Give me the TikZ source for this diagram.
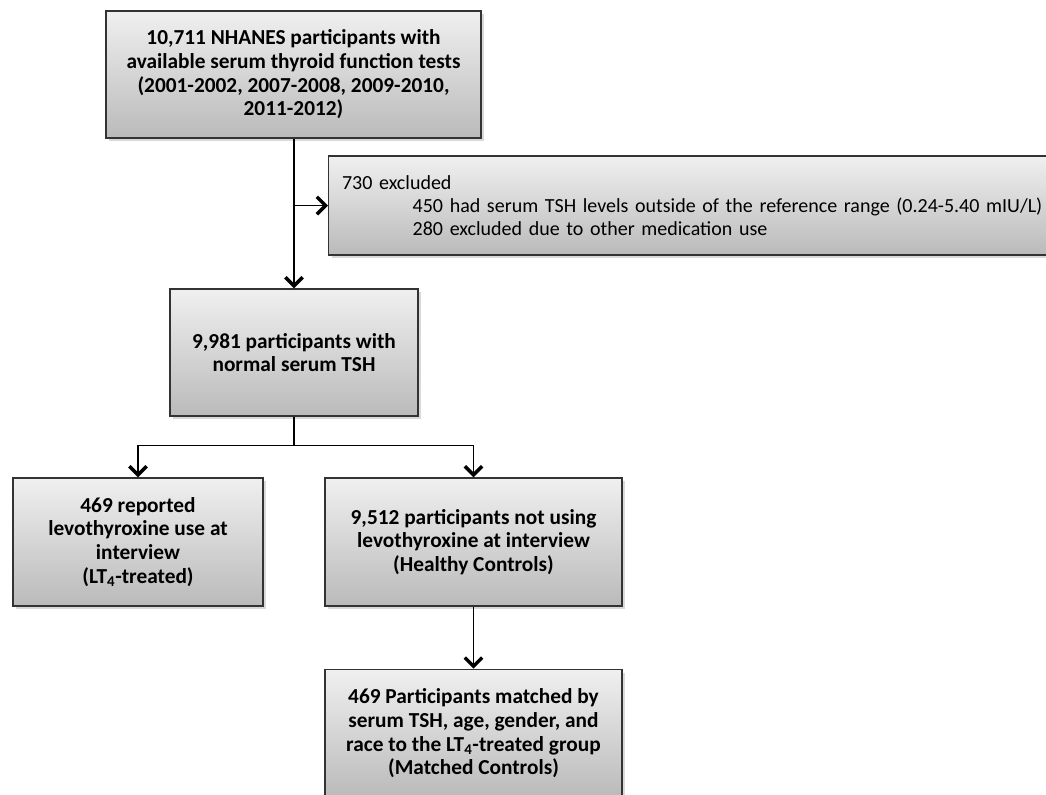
\documentclass[tikz,border=0pt]{standalone}
\usepackage{fontspec}
\setmainfont{Carlito}
\usetikzlibrary{arrows.meta,positioning,shadows}
\tikzset{
    %Define standard arrow tip
    >={Straight Barb[length=6.5pt,width=13pt,line width=2.6pt]},
    %Define style for boxes
    stage/.style={
           rectangle,
           draw=black!80, line width=1pt,
           top color=black!6, bottom color=black!27,
           drop shadow={shadow xshift=2.5pt,shadow yshift=-2.5pt,opacity=0.3},
           font=\fontsize{16}{17.8}\selectfont\bfseries,
           align=center,
           inner sep=0pt,
           },
    exclbox/.style={
           stage,
           font=\fontsize{15}{17.25}\selectfont,
           anchor=west,
           align=left,
           inner xsep=10pt,
           text width=529pt,
           minimum height=74.25pt,
           },
    % Define arrow style
    pil/.style={
           ->,
           line width=1pt,},
}
\begin{document}
\begin{tikzpicture}[x=0.75pt,y=-0.75pt]
\useasboundingbox (0,0) rectangle (1046,794);
\node[stage, minimum width=281.25pt, minimum height=95.25pt] (top) at (293.5,74.5)
  {10,711 NHANES participants with\\available serum thyroid function tests\\(2001-2002, 2007-2008, 2009-2010,\\2011-2012)};
\node[exclbox] (excl) at (328,205.5)
  {730 excluded\\\hspace*{53pt}450 had serum TSH levels outside of the reference range (0.24-5.40 mIU/L)\\\hspace*{53pt}280 excluded due to other medication use};
\node[stage, minimum width=186pt, minimum height=95.25pt] (normal) at (294,352.5)
  {9,981 participants with\\normal serum TSH};
\node[stage, minimum width=187.5pt, minimum height=96pt] (treated) at (138,542)
  {469 reported\\levothyroxine use at\\interview\\(LT\textsubscript{4}-treated)};
\node[stage, minimum width=222.75pt, minimum height=96pt] (healthy) at (473.5,542)
  {9,512 participants not using\\levothyroxine at interview\\(Healthy Controls)};
\node[stage, minimum width=222.75pt, minimum height=96pt, below=46.5pt of healthy] (matched)
  {469 Participants matched by\\serum TSH, age, gender, and\\race to the LT\textsubscript{4}-treated group\\(Matched Controls)};
\draw[pil] (top.south -| normal.north) -- (normal.north);
\draw[pil] (normal.north |- excl.west) -- (excl.west);
\draw[pil] (normal.south) -- ++(0,29) -| (treated.north);
\draw[pil] (normal.south) -- ++(0,29) -| (healthy.north);
\draw[pil] (healthy) -- (matched);
\end{tikzpicture}
\end{document}
